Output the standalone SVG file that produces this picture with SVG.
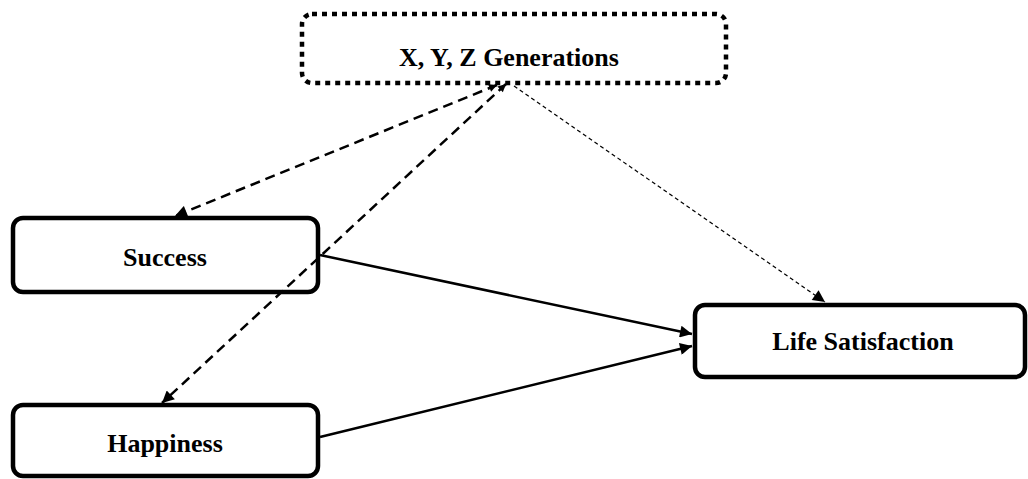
<svg xmlns="http://www.w3.org/2000/svg" width="1028" height="479" viewBox="0 0 1028 479">
<style>
.box{fill:#fff;stroke:#000;stroke-width:4.5}
.dotbox{fill:#fff;stroke:#000;stroke-width:4.5;stroke-dasharray:5 5}
.lbl{font-family:"Liberation Serif","Times New Roman",serif;font-weight:bold;font-size:26px;text-anchor:middle;fill:#000}
.solid{stroke:#000;stroke-width:2.5;fill:none}
.dash{stroke:#000;stroke-width:2.5;fill:none;stroke-dasharray:10 6}
.thin{stroke:#000;stroke-width:1.2;fill:none;stroke-dasharray:4 3}
</style>
<defs>
<marker id="ah" viewBox="0 0 10 10" refX="10" refY="5" markerUnits="userSpaceOnUse" markerWidth="15" markerHeight="12" orient="auto">
<path d="M0,0 L10,5 L0,10 Z" fill="#000"/>
</marker>
<marker id="ahs" viewBox="0 0 10 10" refX="0" refY="5" markerUnits="userSpaceOnUse" markerWidth="10" markerHeight="8" orient="auto">
<path d="M10,0 L0,5 L10,10 Z" fill="#000"/>
</marker>
</defs>
<g id="node-generations">
<rect class="dotbox" x="302" y="14" width="424" height="69" rx="10"/>
<text class="lbl" x="509" y="66">X, Y, Z Generations</text>
</g>
<g id="node-success">
<rect class="box" x="13" y="218" width="305" height="74" rx="10"/>
<text class="lbl" x="165" y="266">Success</text>
</g>
<g id="node-happiness">
<rect class="box" x="13" y="405" width="305" height="71" rx="10"/>
<text class="lbl" x="165" y="452">Happiness</text>
</g>
<g id="node-life">
<rect class="box" x="695" y="305" width="330" height="72" rx="10"/>
<text class="lbl" x="863" y="350">Life Satisfaction</text>
</g>
<g id="connectors">
<line class="dash" x1="497" y1="85" x2="175" y2="216" marker-start="url(#ahs)" marker-end="url(#ah)"/>
<line class="dash" x1="506" y1="84" x2="162" y2="403" marker-start="url(#ahs)" marker-end="url(#ah)"/>
<line class="thin" x1="514" y1="86" x2="825" y2="302" marker-end="url(#ah)"/>
<line class="solid" x1="320" y1="255" x2="692" y2="334" marker-end="url(#ah)"/>
<line class="solid" x1="320" y1="437" x2="692" y2="346" marker-end="url(#ah)"/>
</g>
</svg>
